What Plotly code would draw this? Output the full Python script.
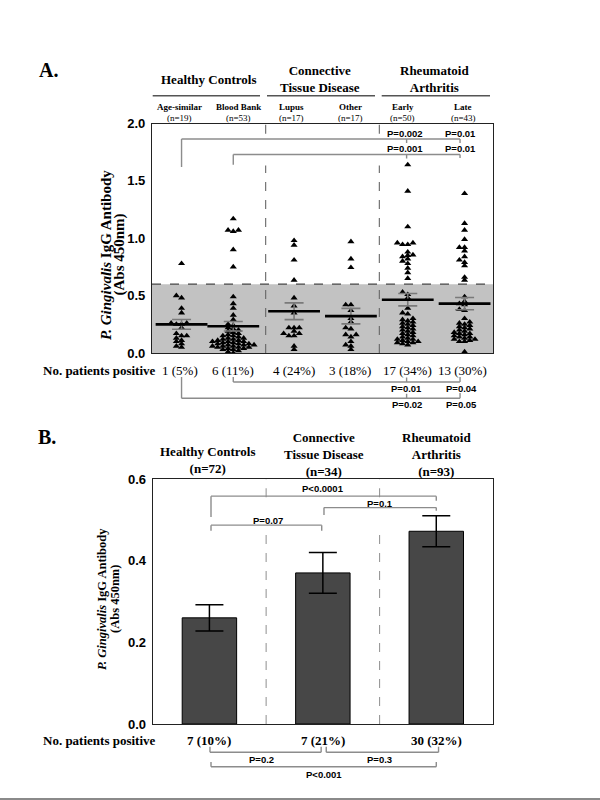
import numpy as np
import plotly.graph_objects as go

W, H = 600, 800

# ---------------- Panel A data ----------------
groups_a = ["Age-similar", "Blood Bank", "Lupus", "Other", "Early", "Late"]
group_n_a = ["(n=19)", "(n=53)", "(n=17)", "(n=17)", "(n=50)", "(n=43)"]
positive_a = ["1 (5%)", "6 (11%)", "4 (24%)", "3 (18%)", "17 (34%)", "13 (30%)"]

age_similar = [0.78, 0.50, 0.48, 0.39, 0.35, 0.26, 0.26, 0.25, 0.25, 0.22,
               0.17, 0.15, 0.15, 0.13, 0.11, 0.10, 0.08, 0.06, 0.05]
blood_bank = [1.17, 1.07, 1.06, 1.07, 0.90, 0.75, 0.49, 0.43, 0.39, 0.33, 0.29,
              0.25, 0.24, 0.22, 0.21, 0.20, 0.19, 0.18, 0.17, 0.16, 0.15,
              0.15, 0.14, 0.13, 0.13, 0.12, 0.12, 0.11, 0.11, 0.10, 0.10,
              0.10, 0.09, 0.09, 0.08, 0.08, 0.08, 0.07, 0.07, 0.07, 0.06,
              0.06, 0.06, 0.05, 0.05, 0.05, 0.04, 0.04, 0.03, 0.03, 0.02,
              0.01, 0.00]
lupus = [0.98, 0.94, 0.81, 0.635, 0.48, 0.41, 0.35, 0.22, 0.22, 0.22, 0.19,
         0.17, 0.15, 0.15, 0.17, 0.03, 0.06]
other = [0.97, 0.82, 0.745, 0.42, 0.42, 0.37, 0.30, 0.27, 0.21, 0.22, 0.16,
         0.14, 0.16, 0.10, 0.07, 0.03, 0.06]
early = [1.64, 1.41, 1.10, 0.96, 0.945, 0.945, 0.96, 0.88, 0.85, 0.84, 0.855,
         0.82, 0.80, 0.78, 0.74, 0.70, 0.65,
         0.53, 0.51, 0.48, 0.39, 0.35, 0.34, 0.30, 0.29, 0.28, 0.27, 0.26,
         0.25, 0.24, 0.23, 0.22, 0.21, 0.20, 0.19, 0.18, 0.17, 0.16, 0.15,
         0.14, 0.13, 0.12, 0.12, 0.11, 0.10, 0.10, 0.09, 0.09, 0.08, 0.07]
late = [1.39, 1.13, 1.07, 0.99, 0.92, 0.92, 0.89, 0.84, 0.81, 0.79, 0.76,
        0.66, 0.635,
        0.49, 0.45, 0.43, 0.42, 0.38, 0.37, 0.30, 0.27, 0.26, 0.25, 0.24,
        0.23, 0.22, 0.21, 0.20, 0.19, 0.18, 0.17, 0.17, 0.16, 0.15, 0.14,
        0.14, 0.13, 0.12, 0.12, 0.11, 0.10, 0.10, 0.01]
values_a = [age_similar, blood_bank, lupus, other, early, late]
cutoff_a = 0.6

# ---------------- Panel B data ----------------
groups_b = ["Healthy Controls<br>(n=72)",
            "Connective<br>Tissue Disease<br>(n=34)",
            "Rheumatoid<br>Arthritis<br>(n=93)"]
means_b = [0.26, 0.37, 0.472]
sem_b = [0.032, 0.050, 0.038]
positive_b = ["7 (10%)", "7 (21%)", "30 (32%)"]

# ---------------- layout geometry ----------------
col_x = [0.52, 1.43, 2.5, 3.5, 4.5, 5.5]   # column centres on the 0..6 axis
AX_L, AX_R = 152, 493
A_TOP, A_BOT = 123.5, 353
B_TOP, B_BOT = 479, 724
px_y_a = (A_BOT - A_TOP) / 2.0
px_x_a = (AX_R - AX_L) / 6.0


def py(v):
    return 1 - v / H


def swarm(vals, step_px=5.2, gap_px=2.8):
    vals = np.asarray(vals, float)
    step = step_px / px_x_a
    gap = gap_px / px_y_a
    cands = [0]
    for m in range(1, 30):
        cands += [-m, m]
    placed = {}
    off = np.zeros(len(vals))
    for i in np.argsort(vals, kind="stable"):
        y = vals[i]
        for k in cands:
            if all(abs(y - q) >= gap for q in placed.get(k, [])):
                break
        placed.setdefault(k, []).append(y)
        off[i] = k * step
    return off


fig = go.Figure()

SERIF = "Liberation Serif, Times New Roman, serif"
SANS = "Liberation Sans, Arial, sans-serif"

# points
for gi, vals in enumerate(values_a):
    off = swarm(vals)
    fig.add_trace(go.Scatter(
        x=col_x[gi] + off, y=vals, mode="markers",
        marker=dict(symbol="triangle-up", size=6.2, color="black"),
        xaxis="x", yaxis="y", showlegend=False, hoverinfo="skip"))

means_a = [float(np.mean(v)) for v in values_a]
sems_a = [float(np.std(v, ddof=1) / np.sqrt(len(v))) for v in values_a]

fig.add_trace(go.Scatter(
    x=col_x, y=means_a, mode="markers",
    marker=dict(size=1, color="rgba(0,0,0,0)"),
    error_y=dict(type="data", array=sems_a, color="#7a7a7a", thickness=1.6, width=9.5),
    xaxis="x", yaxis="y", showlegend=False, hoverinfo="skip"))
fig.add_trace(go.Scatter(
    x=col_x, y=means_a, mode="markers",
    marker=dict(symbol="line-ew", size=37, color="black", line=dict(width=2.6, color="black")),
    xaxis="x", yaxis="y", showlegend=False, hoverinfo="skip"))

# panel B bars
fig.add_trace(go.Bar(
    x=[0, 1, 2], y=means_b, width=0.48,
    marker=dict(color="#474747", line=dict(color="black", width=1)),
    error_y=dict(type="data", array=sem_b, color="black", thickness=1.5, width=14),
    xaxis="x2", yaxis="y2", showlegend=False, hoverinfo="skip"))

shapes = []
annotations = []


def line(xref, yref, x0, y0, x1, y1, color="#8c8c8c", width=1.4, dash=None, layer="above"):
    d = dict(type="line", xref=xref, yref=yref, x0=x0, y0=y0, x1=x1, y1=y1,
             line=dict(color=color, width=width), layer=layer)
    if dash:
        d["line"]["dash"] = dash
    shapes.append(d)


def text(t, x, y, size, family=SERIF, xref="paper", yref="paper", color="black", angle=0):
    if xref == "paper":
        x = x / W
    if yref == "paper":
        y = py(y)
    annotations.append(dict(text=t, x=x, y=y, xref=xref, yref=yref, showarrow=False,
                            xanchor="center", yanchor="middle", textangle=angle,
                            font=dict(size=size, family=family, color=color)))


# ---- Panel A decorations ----
shapes.append(dict(type="rect", xref="x", yref="y", x0=0, x1=6, y0=0, y1=cutoff_a,
                   fillcolor="#c2c2c2", line=dict(width=0), layer="below"))
line("x", "y", 0, cutoff_a, 6, cutoff_a, color="#444", width=1.1, dash="dash")
for sx in (2, 4):
    line("x", "y", sx, 0, sx, 1.635, color="#666", width=1.1, dash="dash")
    line("x", "y", sx, 1.91, sx, 2.0, color="#666", width=1.1, dash="dash")

# top brackets (panel A)
for (x0, yh, leg0, leg1, ptxt, ytxt) in [
        (col_x[0], 1.865, 1.62, 1.83, ("P=0.002", "P=0.01"), 1.91),
        (col_x[1], 1.73, 1.64, 1.70, ("P=0.001", "P=0.01"), 1.78)]:
    line("x", "y", x0, yh, 5.42, yh)
    line("x", "y", x0, yh, x0, leg0)
    line("x", "y", 5.42, yh, 5.42, leg1)
    line("x", "y", 4.48, yh, 4.48, yh - 0.035)
    text("<b>%s</b>" % ptxt[0], 4.46, ytxt, 9.5, SANS, xref="x", yref="y")
    text("<b>%s</b>" % ptxt[1], 5.43, ytxt, 9.5, SANS, xref="x", yref="y")

# bottom brackets (panel A), pixel heights
for (x0, yh, leg0, leg1, ptxt, ytxt) in [
        (col_x[1], 382, 377, 377, ("P=0.01", "P=0.04"), 388.5),
        (col_x[0], 398.3, 377, 393, ("P=0.02", "P=0.05"), 404.5)]:
    line("x", "paper", x0, py(yh), 5.42, py(yh))
    line("x", "paper", x0, py(yh), x0, py(leg0))
    line("x", "paper", 5.42, py(yh), 5.42, py(leg1))
    line("x", "paper", 4.48, py(yh), 4.48, py(yh - 4.5))
    text("<b>%s</b>" % ptxt[0], 4.48, ytxt, 9.5, SANS, xref="x")
    text("<b>%s</b>" % ptxt[1], 5.45, ytxt, 9.5, SANS, xref="x")

# headers A
text("<b>A.</b>", 48, 70, 20)
text("<b>Healthy Controls</b>", 208, 79, 13)
text("<b>Connective<br>Tissue Disease</b>", 320, 79, 13)
text("<b>Rheumatoid<br>Arthritis</b>", 434, 79, 13)
for x0, x1 in [(152.7, 260), (267, 375), (381.7, 490)]:
    line("paper", "paper", x0 / W, py(95.7), x1 / W, py(95.7), color="#555", width=1.6)
sub_x = [179, 238, 291.7, 350, 402.7, 463.3]
for g, n, sx in zip(groups_a, group_n_a, sub_x):
    text("<b>%s</b>" % g, sx, 106.7, 9)
    text(n, sx, 117.7, 9)

text("<b>No. patients positive</b>", 99, 370, 13)
pos_x_a = [180, 233, 294, 350, 407, 463]
for t, sx in zip(positive_a, pos_x_a):
    text(t, sx, 370, 13)

# y-axis titles (two lines, drawn separately for tight spacing)
text("<b><i>P. Gingivalis</i> IgG Antibody</b>", 106, 255, 15, angle=-90)
text("<b>(Abs 450nm)</b>", 119.5, 255, 15, angle=-90)
text("<b><i>P. Gingivalis</i> IgG Antibody</b>", 102, 599, 12.5, angle=-90)
text("<b>(Abs 450nm)</b>", 115, 599, 12.5, angle=-90)

# ---- Panel B decorations ----
for sx in (0.5, 1.5):
    line("x2", "y2", sx, 0, sx, 0.485, color="#999", width=1.1, dash="dash")
    line("x2", "y2", sx, 0.555, sx, 0.6, color="#999", width=1.1, dash="dash")

for (x0, x1, yh, leg0, leg1, t, xt, yt) in [
        (0.014, 2.0, 0.558, 0.507, 0.547, "P<0.0001", 1.0, 0.576),
        (1.01, 2.0, 0.530, 0.512, 0.522, "P=0.1", 1.5, 0.540),
        (0.014, 0.99, 0.487, 0.473, 0.473, "P=0.07", 0.52, 0.499)]:
    line("x2", "y2", x0, yh, x1, yh)
    line("x2", "y2", x0, yh, x0, leg0)
    line("x2", "y2", x1, yh, x1, leg1)
    text("<b>%s</b>" % t, xt, yt, 9.5, SANS, xref="x2", yref="y2")

for (x0, x1, yh, legy, t, xt, yt) in [
        (0.005, 0.985, 752.3, 746.7, "P=0.2", 0.46, 759),
        (1.03, 2.02, 752.3, 746.7, "P=0.3", 1.5, 759),
        (0.014, 2.0, 766.7, 762, "P<0.001", 1.01, 774)]:
    line("x2", "paper", x0, py(yh), x1, py(yh))
    line("x2", "paper", x0, py(yh), x0, py(legy))
    line("x2", "paper", x1, py(yh), x1, py(legy))
    text("<b>%s</b>" % t, xt, yt, 9.5, SANS, xref="x2")

text("<b>B.</b>", 47, 437, 20)
hdr_b_x = [207.7, 324, 436.7]
hdr_b_y = [460, 454, 454]
for g, hx, hy in zip(groups_b, hdr_b_x, hdr_b_y):
    text("<b>%s</b>" % g.replace("<br>", "</b><br><b>"), hx, hy, 13)

text("<b>No. patients positive</b>", 99, 740, 13)
for i, t in enumerate(positive_b):
    text("<b>%s</b>" % t, i, 740, 13, xref="x2")

# bottom rule
line("paper", "paper", 0, py(799), 1, py(799), color="#8a8a8a", width=2)

axis_common = dict(showline=True, mirror=True, linecolor="#222", linewidth=1.2,
                   showgrid=False, zeroline=False, automargin=False)
fig.update_layout(
    template="none",
    width=W, height=H, margin=dict(l=0, r=0, t=0, b=0, pad=0, autoexpand=False),
    paper_bgcolor="white", plot_bgcolor="white",
    xaxis=dict(domain=[AX_L / W, AX_R / W], range=[0, 6], showticklabels=False,
               ticks="", **axis_common),
    yaxis=dict(domain=[py(A_BOT), py(A_TOP)], range=[0, 2.0],
               tickvals=[0, 0.5, 1.0, 1.5, 2.0],
               ticktext=["<b>%.1f</b>" % v for v in [0, 0.5, 1.0, 1.5, 2.0]],
               tickfont=dict(family=SANS, size=13, color="black"),
               ticks="outside", ticklen=3, tickcolor="white", **axis_common),
    xaxis2=dict(domain=[152.7 / W, AX_R / W], range=[-0.5, 2.5], showticklabels=False,
                ticks="", anchor="y2", **axis_common),
    yaxis2=dict(domain=[py(B_BOT), py(B_TOP)], range=[0, 0.6], anchor="x2",
                tickvals=[0, 0.2, 0.4, 0.6],
                ticktext=["<b>%.1f</b>" % v for v in [0, 0.2, 0.4, 0.6]],
                tickfont=dict(family=SANS, size=13, color="black"),
                ticks="outside", ticklen=3, tickcolor="white", **axis_common),
    shapes=shapes, annotations=annotations,
)

fig.write_html("out.html", config={"displayModeBar": False},
               post_script="document.body.style.margin='0px';"
                           "document.body.style.overflow='hidden';")
